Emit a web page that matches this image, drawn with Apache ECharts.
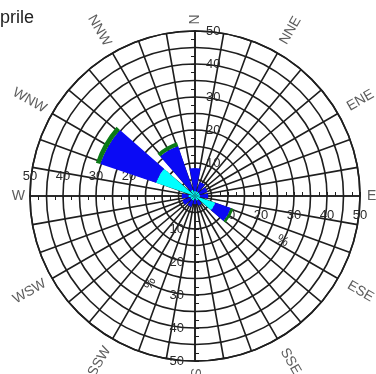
<!DOCTYPE html>
<html><head><meta charset="utf-8">
<script src="https://cdn.jsdelivr.net/npm/echarts@6/dist/echarts.min.js"></script>
<style>html,body{margin:0;padding:0;background:#fff}#c{width:376px;height:374px}</style>
</head><body><div id="c"></div>
<script>
// ---- data ----
const titleText = 'Aprile';
const directions = ['N','NNE','ENE','E','ESE','SSE','S','SSW','WSW','W','WNW','NNW'];
const bearings = [0,30,60,90,120,150,180,210,240,270,300,330];
const radiusTickLabels = [10,20,30,40,50];
const unitLabel = '%';
// speed classes (percent frequency, stacked from the centre outwards)
const classCyan  = [1.5, 1.5, 1.5, 1.5, 6.5, 1.5, 1.0, 1.5, 1.5, 2.0, 12.5, 2.0];
const classBlue  = [7.0, 3.0, 2.5, 2.5, 5.0, 1.5, 1.5, 2.0, 2.5, 2.0, 17.8, 14.0];
const classGreen = [0,   0,   0,   0,   0.8, 0,   0,   0,   0,   0,   1.4,  1.2];

// ---- style ----
const CENTER = [195, 196], RADIUS = 165;
const FONT = '"Liberation Sans", Arial, sans-serif';
const GRID = '#1e1e1e';
const TXT = '#2a2a2a';

const chart = echarts.init(document.getElementById('c'), null, {renderer: 'canvas'});

function radiusAxisFor(idx, showSplit, lbl, name, nameRotate) {
  return {
    polarIndex: idx, type: 'value', min: 0, max: 50, interval: 5,
    axisLine: {show: true, lineStyle: {color: GRID, width: 1.6}},
    axisTick: {show: true, inside: true, length: 4, lineStyle: {color: GRID, width: 1}},
    minorTick: {show: true, splitNumber: 2, length: 4, lineStyle: {color: GRID, width: 1}},
    axisLabel: {show: true, margin: lbl.margin, align: lbl.align, verticalAlign: lbl.valign,
      color: TXT, fontSize: 13, fontFamily: FONT,
      formatter: v => radiusTickLabels.includes(v) ? String(v) : ''},
    splitLine: {show: showSplit, lineStyle: {color: GRID, width: 1.6}},
    name: name || '', nameLocation: 'middle', nameGap: 42, nameRotate: nameRotate,
    nameTextStyle: {color: TXT, fontSize: 13, fontFamily: FONT},
    z: 0
  };
}
function hiddenAngle(idx, start) {
  return {polarIndex: idx, type: 'value', min: 0, max: 360, startAngle: start, clockwise: true, show: false};
}

const dirLabelData = directions.map((d, i) => {
  const b = bearings[i];
  const rot = b <= 180 ? 90 - b : 270 - b;
  return {value: [51.3 + 2.2 * d.length, d], label: {rotate: rot}};
});

const option = {
  backgroundColor: '#fff',
  animation: false,
  graphic: [{type: 'text', x: -12, y: 9, silent: true,
    style: {text: titleText, fill: '#222', font: '18px ' + FONT, textVerticalAlign: 'top'}}],
  polar: [0,1,2,3,4].map(() => ({center: CENTER, radius: RADIUS})),
  angleAxis: [
    {polarIndex: 0, type: 'value', min: 0, max: 360, interval: 10, startAngle: 90, clockwise: true,
      axisLine: {show: true, lineStyle: {color: GRID, width: 1.6}},
      axisTick: {show: false}, axisLabel: {show: false},
      splitLine: {show: true, lineStyle: {color: GRID, width: 1.6}}},
    hiddenAngle(1, 0),
    hiddenAngle(2, -90),
    hiddenAngle(3, 180),
    {polarIndex: 4, type: 'category', data: directions, startAngle: 105, clockwise: true, show: false}
  ],
  radiusAxis: [
    radiusAxisFor(0, true,  {margin: -11, align: 'left',   valign: 'middle'}),
    radiusAxisFor(1, false, {margin: -13, align: 'center', valign: 'top'}, unitLabel, -30),
    radiusAxisFor(2, false, {margin: -11, align: 'right',  valign: 'middle'}, unitLabel, 60),
    radiusAxisFor(3, false, {margin: -13, align: 'center', valign: 'bottom'}),
    {polarIndex: 4, type: 'value', min: 0, max: 50, show: false}
  ],
  series: [
    {type: 'bar', coordinateSystem: 'polar', polarIndex: 4, stack: 'rose', data: classCyan,
      barCategoryGap: '24%', itemStyle: {color: '#00ffff'}},
    {type: 'bar', coordinateSystem: 'polar', polarIndex: 4, stack: 'rose', data: classBlue,
      barCategoryGap: '24%', itemStyle: {color: '#0a0af5'}},
    {type: 'bar', coordinateSystem: 'polar', polarIndex: 4, stack: 'rose', data: classGreen,
      barCategoryGap: '24%', itemStyle: {color: '#0b7a16'}},
    {type: 'scatter', coordinateSystem: 'polar', polarIndex: 4, clip: false, symbolSize: 0, silent: true,
      data: dirLabelData,
      label: {show: true, position: 'inside', align: 'center', verticalAlign: 'middle',
        color: '#333', fontSize: 14, fontFamily: FONT,
        formatter: p => directions[p.dataIndex]}}
  ]
};
chart.setOption(option);
</script>
</body></html>
